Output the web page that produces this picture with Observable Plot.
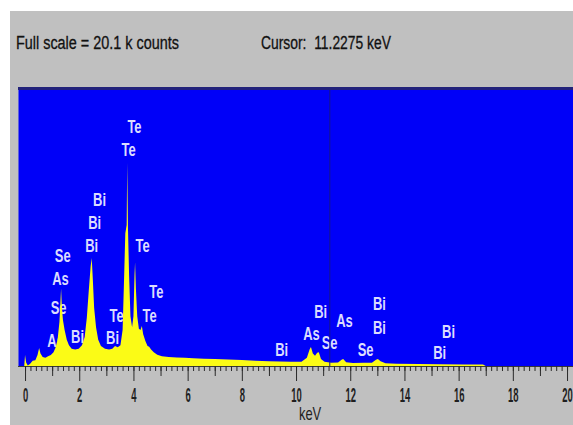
<!DOCTYPE html>
<html><head><meta charset="utf-8">
<script src="https://cdn.jsdelivr.net/npm/d3@7"></script>
<script src="https://cdn.jsdelivr.net/npm/@observablehq/plot@0.6"></script>
<style>
html,body{margin:0;padding:0;background:#fff;}
body{width:573px;height:425px;overflow:hidden;position:relative;}
#panel{position:absolute;left:10px;top:11px;width:563px;height:414px;background:#c0c0c0;overflow:hidden;}
#header{position:relative;height:77px;font-family:"Liberation Sans",Arial,sans-serif;font-size:18px;color:#111;}
.h{position:absolute;top:23px;white-space:pre;transform-origin:0 0;line-height:18px;-webkit-text-stroke:0.3px #111;}
#chart svg{display:block;}
</style></head><body>
<div id="panel">
  <div id="header"><span class="h" id="fs"></span><span class="h" id="cur"></span></div>
  <div id="chart"></div>
</div>
<script>
// ---- header texts
const fullScaleText = "Full scale = 20.1 k counts";
const cursorText = "Cursor:  11.2275 keV";
const fullScale = 20100;      // counts at top of the window
const cursorKeV = 11.2275;

// ---- spectrum (energy in keV, counts)
const specKeV = [-0.26,-0.03,0.00,0.04,0.10,0.18,0.28,0.38,0.46,0.52,0.57,0.65,0.75,0.85,0.95,1.05,1.12,1.20,1.27,1.31,1.33,1.36,1.40,1.46,1.54,1.62,1.72,1.85,1.98,2.10,2.20,2.28,2.35,2.42,2.46,2.50,2.55,2.62,2.70,2.80,2.95,3.10,3.22,3.32,3.42,3.52,3.60,3.65,3.70,3.75,3.77,3.80,3.84,3.89,3.95,4.00,4.04,4.06,4.09,4.14,4.20,4.26,4.31,4.36,4.44,4.52,4.58,4.65,4.75,4.88,5.05,5.30,5.60,5.90,6.20,6.60,7.00,7.50,8.00,8.50,9.00,9.40,9.80,10.20,10.40,10.50,10.55,10.62,10.70,10.78,10.84,10.92,11.05,11.30,11.55,11.68,11.74,11.85,12.10,12.50,12.80,12.95,13.02,13.12,13.30,13.70,14.50,15.30,16.20,16.90,17.00,20.22];
const specCounts = [0,0,800,250,30,150,380,420,800,1300,900,650,600,700,800,1000,1300,1900,3200,4800,5600,4200,3300,2600,1900,1500,1250,1200,1250,1500,2100,3500,5400,7200,7800,6300,4200,2800,1900,1450,1250,1200,1250,1450,1350,1500,2600,6000,9600,10200,14700,9800,6500,3600,2800,3600,6600,7500,5600,3600,2700,2600,2900,2300,1800,1450,1400,1200,1000,820,700,650,620,600,560,520,500,470,440,380,340,320,300,310,600,1200,1370,900,750,950,1000,500,300,230,260,450,500,280,220,240,230,450,500,350,200,160,140,130,110,100,0,0];

// ---- element labels (text, keV position, counts position)
const labelText   = ["Te","Te","Bi","Bi","Bi","Te","Se","As","Se","As","Bi","Te","Bi","Te","Te","Bi","As","Bi","Se","As","Se","Bi","Bi","Bi","Bi"];
const labelKeV    = [4.02,3.80,2.73,2.55,2.44,4.32,1.37,1.29,1.22,1.11,1.92,3.36,3.21,4.83,4.58,9.45,10.55,10.89,11.22,11.77,12.55,13.06,13.06,15.61,15.28];
const labelCounts = [17280,15620,12000,10340,8680,8680,7950,6290,4190,1810,2100,3620,2020,5350,3620,1160,2310,3900,1660,3250,1160,4480,2750,2460,940];

// ---- axis ticks
const majorTicks = [0,2,4,6,8,10,12,14,16,18,20];
const midTicks = [1,3,5,7,9,11,13,15,17,19];
const minorTicks = d3.range(0, 100 + 1).map(i => i / 5);
const axisLabel = "keV";
const axisLabelKeV = 10.5;

const BLUE = "#0000f8", YELLOW = "#fbfb16";

document.getElementById("fs").textContent = fullScaleText;
document.getElementById("cur").textContent = cursorText;
const fs = document.getElementById("fs"), cur = document.getElementById("cur");
fs.style.left = "6px"; fs.style.transform = "scaleX(0.8)";
cur.style.left = "251px"; cur.style.transform = "scaleX(0.77)";

const spectrum = specKeV.map((k, i) => ({keV: k, counts: specCounts[i]}));

const chart = Plot.plot({
  width: 563, height: 337,
  marginLeft: 8, marginRight: 0, marginTop: 0, marginBottom: 59,
  x: {domain: [-0.26, 20.22]},
  y: {domain: [0, fullScale], axis: null},
  style: {fontFamily: "Liberation Sans, Arial, sans-serif", background: "transparent", overflow: "visible"},
  marks: [
    Plot.frame({fill: BLUE, stroke: null}),
    Plot.text(labelText, {x: (d, i) => labelKeV[i], y: (d, i) => labelCounts[i], fill: "#dcdcff", fontSize: 18, fontWeight: "bold"}),
    Plot.areaY(spectrum, {x: "keV", y: "counts", fill: YELLOW, curve: "linear"}),
    Plot.ruleX([cursorKeV], {stroke: "#16168a", strokeWidth: 1}),
    Plot.ruleY([fullScale], {stroke: "#22227a", strokeWidth: 3}),
    Plot.ruleY([0], {stroke: "#3a3a3a", strokeWidth: 1}),
    Plot.axisX(minorTicks, {tickSize: 5, fill: "none", stroke: "#2a2a2a", label: null}),
    Plot.axisX(midTicks, {tickSize: 10, fill: "none", stroke: "#2a2a2a", label: null}),
    Plot.axisX(majorTicks, {tickSize: 15, tickPadding: 6, fontSize: 21, fontWeight: "bold", fill: "#1f1f1f", stroke: "#2a2a2a", label: null}),
    Plot.text([axisLabel], {x: () => axisLabelKeV, frameAnchor: "bottom", lineAnchor: "middle", dy: 48, fontSize: 18, fill: "#1f1f1f"})
  ]
});
document.getElementById("chart").appendChild(chart);

function squeeze(nodes, s) {
  nodes.forEach(el => {
    const x = +el.getAttribute("x") || 0, y = +el.getAttribute("y") || 0;
    const t = el.getAttribute("transform") || "";
    el.setAttribute("transform", `${t} translate(${x},${y}) scale(${s},1) translate(${-x},${-y})`);
  });
}
squeeze(chart.querySelectorAll('g[aria-label="text"] text'), 0.72);
squeeze(chart.querySelectorAll('g[aria-label="x-axis tick label"] text'), 0.45);
</script>
</body></html>
